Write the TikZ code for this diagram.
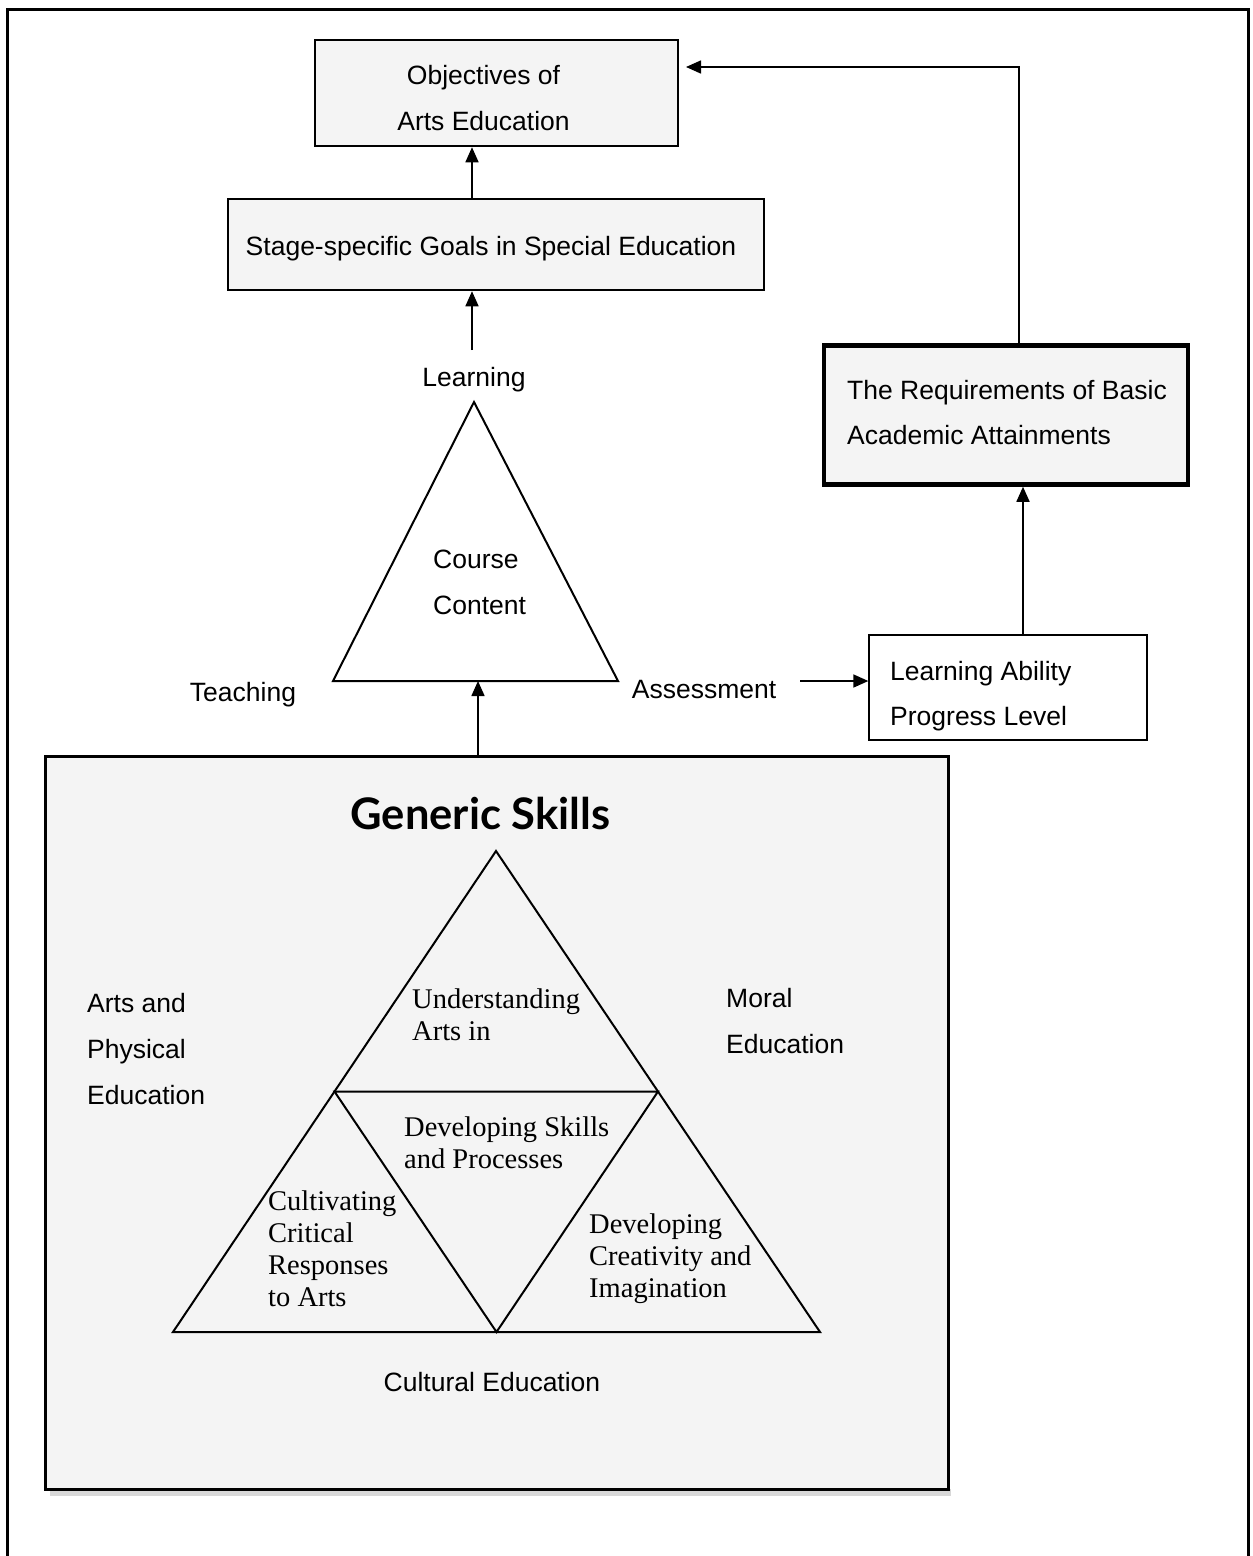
\documentclass[tikz,border=0pt]{standalone}
\usepackage{fontspec}
\setmainfont{Liberation Sans}
\newfontfamily\serfam{Liberation Serif}
\newfontfamily\titlefam{Lato}
\usetikzlibrary{arrows.meta}
\definecolor{boxgray}{HTML}{F4F4F4}
\definecolor{shadowgray}{HTML}{D8D8D8}
\begin{document}
\begin{tikzpicture}[x=1pt,y=-1pt,
  sans/.style={font=\fontsize{26.5}{45.8}\selectfont, inner sep=0pt},
  serf/.style={font=\serfam\fontsize{28.5}{32.3}\selectfont, inner sep=0pt, align=left, anchor=base west},
  box/.style={draw, fill=boxgray, inner sep=0pt},
  arr/.style={-{Triangle[length=15pt,width=13pt]}, line width=1.6pt},
  tri/.style={line width=2pt, line join=miter}]
\useasboundingbox (0,0) rectangle (1253,1556);
% outer frame (open at the bottom)
\draw[line width=3pt] (7.5,1556) -- (7.5,9.5) -- (1248,9.5) -- (1248,1556);

% top boxes
\node[box, line width=2.5pt, minimum width=363pt, minimum height=106pt] (obj) at (496.5,93) {};
\node[sans, anchor=base, align=center] (objt) at (483.5,130.6) {Objectives of\\Arts Education};

\node[box, line width=2.5pt, minimum width=536pt, minimum height=91pt] (stage) at (496,244.5) {};
\node[sans, anchor=base] (staget) at (491,255.7) {Stage-specific Goals in Special Education};

\node[box, line width=4.5pt, minimum width=364pt, minimum height=139pt] (req) at (1006,415) {};
\node[sans, anchor=base west, align=left] (reqt) at (847,444.8) {The Requirements of Basic\\Academic Attainments};

\node[draw, fill=white, line width=1.3pt, minimum width=278pt, minimum height=105pt, inner sep=0pt] (la) at (1008,687.5) {};
\node[sans, anchor=base west, align=left] (lat) at (890,725.8) {Learning Ability\\Progress Level};

% course content triangle
\coordinate (ctA) at (474,402);
\coordinate (ctB) at (333,681);
\coordinate (ctC) at (618,681);
\draw[tri] (ctA) -- (ctB) -- (ctC) -- cycle;
\node[sans, anchor=base] (learn) at (474,386.5) {Learning};
\node[sans, anchor=base west, align=left] (course) at (433,614.3) {Course\\Content};
\node[sans, anchor=base] (teach) at (243,701.5) {Teaching};
\node[sans, anchor=base] (assess) at (704,698.5) {Assessment};

% generic skills box
\fill[shadowgray] (50,1489) rectangle (951,1495.5);
\node[box, line width=3pt, minimum width=903pt, minimum height=733pt] (gs) at (497,1122.5) {};
\node[font=\titlefam\bfseries\fontsize{43.5}{50}\selectfont, inner sep=0pt, anchor=base] (gst) at (480.4,829.3) {Generic Skills};

% big triangle
\coordinate (bA) at (496,851);
\coordinate (bL) at (173,1332);
\coordinate (bR) at (820,1332);
\coordinate (mL) at (334.5,1091.5);
\coordinate (mR) at (658,1091.5);
\coordinate (mB) at (496.5,1332);
\draw[tri] (bA) -- (bL) -- (bR) -- cycle;
\draw[tri] (mL) -- (mR) -- (mB) -- cycle;

\node[serf] (und) at (412,1040.8) {Understanding\\Arts in};
\node[serf] (dsp) at (404,1168.5) {Developing Skills\\and Processes};
\node[serf] (ccr) at (268,1306.9) {Cultivating\\Critical\\Responses\\to Arts};
\node[serf] (dci) at (589,1297.6) {Developing\\Creativity and\\Imagination};

\node[sans, anchor=base west, align=left] (ape) at (87,1104.1) {Arts and\\Physical\\Education};
\node[sans, anchor=base west, align=left] (moral) at (726,1053.3) {Moral\\Education};
\node[sans, anchor=base] (cult) at (492,1391.5) {Cultural Education};

% connectors
\coordinate (ax) at (472,0);
\coordinate (lt) at (472,350);
\coordinate (gx) at (478,0);
\coordinate (rx) at (1023,0);
\coordinate (as1) at (800,681);
\coordinate (tcorner) at (1019,67);
\coordinate (tend) at (686,67);
\draw[arr] (stage.north -| ax) -- (obj.south -| ax);
\draw[arr] (lt) -- (stage.south -| ax);
\draw[arr] (gs.north -| gx) -- (ctB -| gx);
\draw[arr] (as1) -- (as1 -| la.west);
\draw[arr] (la.north -| rx) -- (req.south -| rx);
\draw[arr] (req.north -| tcorner) -- (tcorner) -- (tend);
\end{tikzpicture}
\end{document}
